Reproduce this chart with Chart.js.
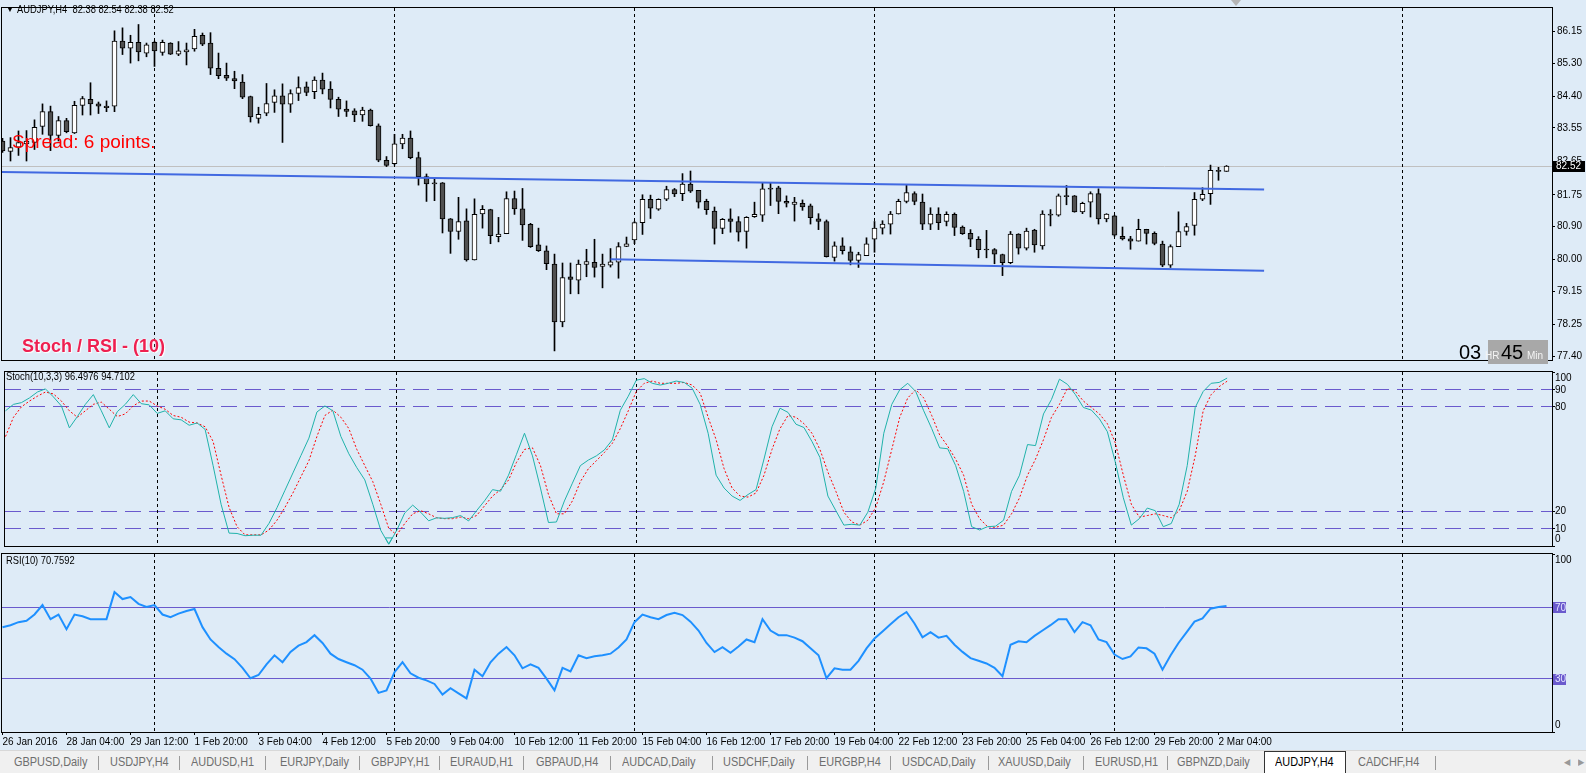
<!DOCTYPE html>
<html lang="en">
<head>
    <meta charset="UTF-8">
    <title>AUDJPY,H4</title>
    <script src="https://cdn.jsdelivr.net/npm/chart.js"></script>
    <style>
        body { margin: 0; width: 1586px; height: 773px; overflow: hidden; position: relative; background: #deebf7;
               font-family: 'Liberation Sans', Arial, sans-serif; }
        canvas { position: absolute; left: 0; }
        .txt { position: absolute; white-space: pre; font-size: 11px; color: #000; line-height: 13px;
               transform: scaleX(0.85); transform-origin: left top; }
        #spread { left: 12px; top: 131px; font-size: 19px; color: #ff0000; transform: none; line-height: 22px; }
        #stochTitle { left: 22px; top: 336px; font-weight: bold; font-size: 18px; color: #ee2050; transform: none;
                      line-height: 21px; text-shadow: 1px 1px 1px #fff, 0 0 2px #fff; }
        #timer { position: absolute; left: 1459px; top: 340px; height: 24px; }
        #timer .big { position: absolute; top: 1px; font-size: 20px; color: #000; }
        #timer .small { position: absolute; top: 10px; font-size: 10px; color: #f4f4f4; }
        #timerBox { position: absolute; left: 29px; top: 0; width: 60px; height: 24px; background: #a8a8a8; }
        #shiftMark { position: absolute; left: 1231px; top: 0; width: 0; height: 0;
                     border-left: 5px solid transparent; border-right: 5px solid transparent; border-top: 6px solid #b4b4b4; }
        #tabs { position: absolute; left: 0; top: 750px; width: 1586px; height: 23px; background: #f0f0f0; border-top: 1px solid #d8d8d8; }
        #tabs span { position: absolute; top: 4px; font-size: 12px; color: #6e6e6e; white-space: pre;
                     transform: scaleX(0.91); transform-origin: left top; }
        #tabs i { position: absolute; top: 5px; width: 1px; height: 14px; background: #9a9a9a; }
        #tabs .active { position: absolute; top: 0; height: 23px; background: #fff; border: 1px solid #333; border-bottom: none; box-sizing: border-box; }
    </style>
</head>
<body>
    <canvas id="mainChart" width="1586" height="368" style="top:0"></canvas>
    <canvas id="stochChart" width="1586" height="184" style="top:367px"></canvas>
    <canvas id="rsiChart" width="1586" height="201" style="top:551px"></canvas>

    <div class="txt" style="left:6px; top:3px; font-size:8px; transform:none;">&#9660;</div>
    <div class="txt" style="left:17px; top:3px;">AUDJPY,H4  82.38 82.54 82.38 82.52</div>
    <div id="spread" class="txt">Spread: 6 points.</div>
    <div id="stochTitle" class="txt">Stoch / RSI - (10)</div>
    <div id="shiftMark"></div>
    <div id="timer">
        <div id="timerBox"></div>
        <span class="big" style="left:0">03</span>
        <span class="small" style="left:26px">HR</span>
        <span class="big" style="left:42px">45</span>
        <span class="small" style="left:68px">Min</span>
    </div>
    <div class="txt" style="left:6px; top:370px;">Stoch(10,3,3) 96.4976 94.7102</div>
    <div class="txt" style="left:6px; top:554px;">RSI(10) 70.7592</div>

    <div id="tabs"></div>

    <script>
        // --- data ---
        const open = [83.20, 82.92, 83.03, 83.12, 83.16, 83.59, 83.99, 83.35, 83.75, 83.42,
            84.16, 84.32, 84.20, 84.14, 84.14, 85.89, 85.70, 85.86, 85.57, 85.86,
            85.59, 85.84, 85.54, 85.60, 85.68, 86.05, 85.84, 85.16, 84.97, 84.88,
            84.79, 84.40, 83.81, 83.95, 84.24, 84.42, 84.19, 84.48, 84.66, 84.53,
            84.84, 84.60, 84.32, 84.06, 84.01, 83.90, 84.03, 83.61, 82.68, 82.59,
            83.12, 83.28, 82.75, 82.24, 82.07, 82.07, 81.10, 80.76, 81.05, 79.99,
            81.23, 81.35, 80.62, 80.70, 81.65, 81.37, 80.95, 80.40, 80.24, 79.88,
            78.32, 79.54, 79.45, 79.87, 79.93, 79.82, 79.85, 79.93, 80.36, 80.53,
            81.00, 81.63, 81.36, 81.63, 81.89, 81.78, 82.04, 81.87, 81.57, 81.31,
            80.84, 81.10, 81.03, 80.76, 81.16, 81.20, 81.93, 81.94, 81.57, 81.49,
            81.52, 81.45, 81.10, 81.03, 80.06, 80.37, 80.21, 79.98, 80.11, 80.55,
            80.85, 80.96, 81.23, 81.57, 81.78, 81.55, 80.96, 81.23, 81.03, 81.22,
            80.88, 80.71, 80.55, 80.27, 80.27, 80.14, 79.92, 80.69, 80.31, 80.80,
            80.37, 81.23, 81.20, 81.73, 81.72, 81.29, 81.55, 81.78, 81.10, 81.18,
            80.63, 80.56, 80.50, 80.82, 80.71, 80.42, 79.85, 80.35, 80.76, 80.92,
            81.63, 81.78, 82.41, 82.38];
        const high = [83.27, 83.29, 83.47, 83.48, 83.77, 84.20, 84.14, 83.86, 83.81, 84.27,
            84.40, 84.77, 84.25, 84.28, 86.17, 86.25, 86.05, 86.34, 85.84, 85.89,
            85.92, 85.85, 85.88, 85.84, 86.21, 86.11, 86.12, 85.57, 85.30, 85.08,
            84.99, 84.41, 84.11, 84.75, 84.58, 84.74, 84.58, 84.93, 84.79, 84.93,
            85.03, 84.80, 84.38, 84.28, 84.07, 84.11, 84.06, 83.66, 82.78, 83.38,
            83.38, 83.47, 82.90, 82.31, 82.20, 82.08, 81.11, 81.68, 81.37, 81.64,
            81.46, 81.36, 81.14, 81.83, 81.85, 81.92, 80.98, 80.85, 80.37, 80.15,
            79.91, 79.91, 79.99, 80.28, 80.55, 80.15, 80.30, 80.46, 80.61, 81.03,
            81.75, 81.74, 81.64, 81.98, 81.92, 82.32, 82.39, 81.87, 81.63, 81.42,
            81.11, 81.37, 81.16, 81.16, 81.55, 82.07, 82.06, 81.98, 81.72, 81.68,
            81.61, 81.50, 81.24, 81.07, 80.48, 80.59, 80.35, 80.20, 80.59, 81.03,
            81.05, 81.30, 81.63, 82.01, 81.83, 81.77, 81.40, 81.40, 81.29, 81.26,
            80.91, 80.81, 80.62, 80.79, 80.30, 80.15, 80.76, 80.70, 80.85, 80.82,
            81.32, 81.35, 81.77, 82.00, 81.73, 81.55, 81.83, 81.91, 81.24, 81.20,
            80.88, 80.63, 81.09, 80.82, 80.75, 80.50, 80.40, 81.29, 80.98, 81.81,
            81.94, 82.55, 82.49, 82.54];
        const low = [82.89, 82.66, 82.81, 82.66, 82.97, 83.38, 82.94, 83.20, 83.42, 83.40,
            83.90, 83.90, 83.94, 83.99, 83.99, 85.53, 85.30, 85.36, 85.47, 85.21,
            85.51, 85.53, 85.50, 85.25, 85.62, 85.77, 84.99, 84.88, 84.83, 84.61,
            84.34, 83.71, 83.68, 83.88, 83.97, 83.16, 83.97, 84.29, 84.42, 84.34,
            84.47, 84.09, 83.86, 83.86, 83.72, 83.73, 83.60, 82.64, 82.51, 82.55,
            82.99, 82.72, 82.01, 81.57, 81.59, 80.72, 80.17, 80.55, 79.96, 79.99,
            80.85, 80.43, 80.48, 80.70, 81.22, 80.52, 80.33, 80.22, 79.73, 77.54,
            78.19, 79.08, 79.08, 79.54, 79.53, 79.24, 79.80, 79.50, 80.35, 80.43,
            80.68, 81.11, 81.33, 81.59, 81.70, 81.59, 81.81, 81.39, 81.22, 80.42,
            80.70, 80.74, 80.50, 80.31, 81.14, 81.03, 81.46, 81.24, 81.42, 81.04,
            81.33, 80.96, 80.81, 80.07, 79.96, 80.15, 79.86, 79.79, 80.11, 80.20,
            80.69, 80.69, 81.23, 81.53, 81.48, 80.81, 80.81, 80.81, 80.91, 80.65,
            80.68, 80.35, 80.05, 80.05, 79.89, 79.57, 79.89, 80.15, 80.26, 80.20,
            80.28, 80.91, 81.17, 81.48, 81.28, 81.24, 81.15, 80.96, 81.02, 80.63,
            80.53, 80.28, 80.50, 80.42, 80.40, 79.81, 79.79, 80.35, 80.66, 80.66,
            81.59, 81.49, 82.14, 82.38];
        const close = [82.93, 83.02, 83.16, 83.20, 83.57, 83.99, 83.35, 83.75, 83.45, 84.16,
            84.34, 84.20, 84.14, 84.10, 85.89, 85.70, 85.86, 85.60, 85.79, 85.63,
            85.86, 85.54, 85.63, 85.66, 86.02, 85.81, 85.16, 84.96, 84.89, 84.82,
            84.38, 83.85, 83.92, 84.21, 84.42, 84.19, 84.48, 84.64, 84.51, 84.84,
            84.60, 84.32, 84.06, 84.00, 83.90, 84.03, 83.61, 82.68, 82.54, 83.12,
            83.28, 82.75, 82.24, 82.04, 82.04, 81.10, 80.76, 81.03, 79.99, 81.22,
            81.36, 80.65, 80.69, 81.65, 81.37, 80.94, 80.35, 80.24, 79.89, 78.32,
            79.52, 79.47, 79.88, 79.95, 79.79, 79.88, 79.94, 80.35, 80.43, 81.00,
            81.63, 81.39, 81.63, 81.89, 81.77, 82.04, 81.85, 81.55, 81.35, 80.84,
            81.09, 81.03, 80.74, 81.14, 81.22, 81.91, 81.90, 81.57, 81.52, 81.55,
            81.42, 81.13, 81.03, 80.08, 80.37, 80.24, 79.98, 80.14, 80.43, 80.85,
            80.96, 81.23, 81.57, 81.81, 81.57, 80.96, 81.23, 81.00, 81.22, 80.87,
            80.70, 80.55, 80.27, 80.26, 80.15, 79.92, 80.69, 80.31, 80.77, 80.40,
            81.23, 81.20, 81.72, 81.70, 81.29, 81.52, 81.78, 81.10, 81.23, 80.66,
            80.56, 80.50, 80.82, 80.71, 80.44, 79.85, 80.35, 80.76, 80.89, 81.63,
            81.76, 82.41, 82.38, 82.52];

        const stochMain = [77.7, 81.4, 82.4, 85.1, 88.5, 90.3, 85.7, 80.5, 67.9, 74.4,
            81.4, 87.0, 77.7, 67.9, 77.2, 81.4, 87.0, 81.8, 81.1, 76.2,
            77.7, 73.1, 72.5, 69.4, 70.7, 67.0, 46.2, 24.0, 7.4, 7.2,
            5.9, 6.2, 6.2, 13.0, 22.0, 32.0, 42.0, 52.0, 62.0, 77.0,
            80.5, 77.7, 63.0, 53.0, 45.0, 38.0, 24.0, 9.0, 1.0, 9.0,
            19.0, 23.5, 19.4, 14.5, 16.2, 15.9, 16.3, 17.5, 14.4, 20.3,
            26.0, 32.4, 31.5, 40.7, 52.7, 64.8, 51.8, 33.3, 13.5, 13.8,
            25.9, 36.1, 46.2, 49.4, 51.8, 55.2, 61.0, 78.0, 86.1, 95.3,
            96.2, 93.5, 92.5, 93.5, 94.8, 94.0, 90.7, 81.4, 64.8, 40.7,
            33.3, 28.7, 26.2, 29.6, 32.4, 50.0, 68.5, 79.2, 76.8, 70.0,
            68.1, 60.1, 50.9, 28.7, 20.3, 12.0, 12.5, 12.0, 19.4, 33.3,
            64.8, 81.4, 89.8, 93.5, 88.8, 77.7, 67.5, 56.4, 55.9, 46.2,
            31.4, 11.1, 9.2, 11.1, 11.4, 14.8, 31.4, 40.7, 58.3, 57.7,
            75.9, 84.2, 95.9, 92.9, 87.0, 79.6, 78.1, 73.1, 65.7, 48.1,
            27.7, 12.0, 15.7, 21.8, 20.3, 11.1, 12.9, 24.0, 46.2, 79.6,
            88.8, 93.5, 94.0, 96.5];
        const stochSignal = [62.9, 74.0, 80.0, 83.3, 86.1, 88.5, 87.4, 83.3, 77.7, 74.0,
            77.7, 81.4, 82.7, 78.6, 74.4, 75.9, 80.5, 83.3, 83.3, 80.5,
            78.6, 75.0, 74.0, 71.2, 70.7, 68.5, 60.1, 40.7, 22.2, 11.1,
            6.4, 6.4, 6.4, 9.2, 14.8, 22.2, 30.5, 39.8, 49.0, 62.9,
            75.0, 78.1, 74.0, 67.5, 55.5, 46.2, 37.0, 24.0, 10.1, 6.4,
            12.9, 18.5, 20.3, 18.5, 16.2, 15.7, 15.7, 16.6, 15.7, 17.5,
            23.1, 28.7, 32.4, 37.9, 48.1, 55.5, 56.4, 46.2, 29.6, 18.5,
            18.5, 25.9, 37.0, 44.4, 49.0, 53.7, 59.0, 67.5, 77.7, 88.8,
            93.5, 94.8, 93.5, 93.5, 93.5, 94.0, 92.5, 87.9, 74.0, 61.1,
            44.4, 33.3, 28.7, 28.1, 30.5, 40.7, 55.5, 67.5, 75.0, 74.0,
            70.3, 64.8, 55.5, 42.5, 31.4, 19.4, 13.8, 12.0, 14.8, 22.2,
            37.0, 55.5, 74.0, 85.1, 89.8, 85.1, 75.0, 63.8, 57.4, 49.9,
            40.7, 24.0, 15.7, 11.1, 10.7, 12.0, 18.5, 27.7, 40.7, 49.9,
            61.1, 74.0, 81.4, 90.7, 88.8, 83.3, 79.6, 75.9, 70.3, 59.2,
            40.7, 24.0, 16.6, 17.5, 18.5, 17.5, 16.2, 20.3, 31.4, 51.8,
            77.7, 87.0, 91.6, 94.7];
        const stochArrows = [[48, 3.5]];   // [bar, value] of the signal mark
        const rsi = [58.9, 60.0, 61.7, 62.5, 66.0, 71.3, 63.4, 66.0, 57.8, 66.0,
            65.0, 63.4, 63.4, 63.4, 78.6, 74.7, 75.8, 72.0, 70.2, 71.3,
            66.0, 64.5, 66.5, 68.0, 69.1, 58.9, 52.0, 47.7, 44.0, 40.9,
            36.0, 30.2, 32.0, 38.0, 43.1, 39.2, 45.0, 48.5, 50.5, 54.4,
            50.0, 44.0, 41.0, 39.2, 37.5, 35.0, 30.0, 22.0, 23.4, 33.6,
            39.2, 33.0, 30.5, 29.0, 27.0, 21.0, 24.6, 21.7, 18.9, 35.0,
            31.3, 39.2, 44.0, 47.7, 43.1, 35.8, 38.0, 36.0, 30.0, 23.4,
            36.0, 34.0, 43.1, 41.5, 42.5, 43.1, 44.0, 47.5, 52.0, 61.7,
            66.0, 64.5, 63.4, 65.7, 67.0, 65.7, 62.0, 57.0, 50.0, 44.9,
            47.7, 44.5, 48.0, 52.0, 50.4, 63.4, 57.0, 54.4, 54.4, 53.0,
            51.0, 47.0, 43.1, 30.2, 35.8, 35.0, 35.0, 40.0, 47.0, 52.5,
            56.5, 60.5, 64.5, 67.4, 61.0, 53.2, 56.1, 53.0, 54.0, 49.0,
            45.0, 41.5, 40.0, 38.5, 36.0, 31.3, 49.0, 51.0, 50.4, 54.0,
            57.0, 60.0, 63.4, 63.4, 56.1, 61.7, 60.0, 52.0, 50.5, 43.5,
            41.0, 42.5, 47.5, 47.0, 44.0, 35.0, 43.0, 50.0, 56.0, 62.0,
            63.8, 69.3, 70.2, 70.76];

        // trend channel drawn on the price panel: [bar, price]
        const upperTrend = [[-1, 82.363], [157.7, 81.89]];
        const lowerTrend = [[76, 80.01], [157.7, 79.70]];

        const priceTicks = [86.15, 85.30, 84.40, 83.55, 82.65, 81.75, 80.90, 80.00, 79.15, 78.25, 77.40];
        const stochLevels = [90, 80, 20, 10];
        const stochAxis = [100, 90, 80, 20, 10, 0];
        const rsiLevels = [70, 30];
        const rsiAxis = [100, 70, 30, 0];

        const timeBars = [0, 8, 16, 24, 32, 40, 48, 56, 64, 72, 80, 88, 96, 104, 112, 120, 128, 136, 144, 152];
        const timeLabels = ['26 Jan 2016', '28 Jan 04:00', '29 Jan 12:00', '1 Feb 20:00', '3 Feb 04:00',
            '4 Feb 12:00', '5 Feb 20:00', '9 Feb 04:00', '10 Feb 12:00', '11 Feb 20:00', '15 Feb 04:00',
            '16 Feb 12:00', '17 Feb 20:00', '19 Feb 04:00', '22 Feb 12:00', '23 Feb 20:00', '25 Feb 04:00',
            '26 Feb 12:00', '29 Feb 20:00', '2 Mar 04:00'];
        const weekSeparators = [19, 49, 79, 109, 139, 175];

        const tabNames = ['GBPUSD,Daily', 'USDJPY,H4', 'AUDUSD,H1', 'EURJPY,Daily', 'GBPJPY,H1', 'EURAUD,H1',
            'GBPAUD,H4', 'AUDCAD,Daily', 'USDCHF,Daily', 'EURGBP,H4', 'USDCAD,Daily', 'XAUUSD,Daily',
            'EURUSD,H1', 'GBPNZD,Daily', 'AUDJPY,H4', 'CADCHF,H4'];
        const activeTab = 'AUDJPY,H4';

        // --- layout ---
        const FONT = "'Liberation Sans', Arial, sans-serif";
        Chart.defaults.font.family = FONT;
        Chart.defaults.font.size = 10;
        Chart.defaults.color = '#000';

        const X_MIN = -0.0625;            // bar 0 sits 2.5px into the plot
        const X_MAX = X_MIN + 1550 / 8;   // 8px per H4 bar
        const lastClose = close[close.length - 1];

        // panel frame, level lines, week separators, right-hand labels
        const mtPanel = {
            id: 'mtPanel',
            beforeDatasetsDraw(chart, args, o) {
                const { ctx, chartArea: a, scales: { x, y } } = chart;
                ctx.save();
                ctx.lineWidth = 1;
                if (o.lastPrice != null) {
                    const py = Math.floor(y.getPixelForValue(o.lastPrice)) + 0.5;
                    ctx.strokeStyle = '#c0c0c0';
                    ctx.beginPath(); ctx.moveTo(a.left, py); ctx.lineTo(a.right, py); ctx.stroke();
                }
                (o.levels || []).forEach(v => {
                    const py = Math.floor(y.getPixelForValue(v)) + 0.5;
                    ctx.strokeStyle = '#6a5acd';
                    ctx.setLineDash(o.levelDash || []);
                    ctx.beginPath(); ctx.moveTo(a.left, py); ctx.lineTo(a.right, py); ctx.stroke();
                });
                ctx.setLineDash([3, 3]);
                ctx.strokeStyle = '#000';
                weekSeparators.forEach(b => {
                    const px = Math.floor(x.getPixelForValue(b)) + 0.5;
                    if (px > a.right) return;
                    ctx.beginPath(); ctx.moveTo(px, a.top); ctx.lineTo(px, a.bottom); ctx.stroke();
                });
                ctx.restore();
            },
            afterDraw(chart, args, o) {
                const { ctx, chartArea: a, scales: { y } } = chart;
                ctx.save();
                ctx.strokeStyle = '#000';
                ctx.lineWidth = 1;
                ctx.strokeRect(a.left - 0.5, a.top - 0.5, a.right - a.left + 1, a.bottom - a.top + 1);
                ctx.font = '10px ' + FONT;
                ctx.textBaseline = 'middle';
                (o.axis || []).forEach(v => {
                    const py = y.getPixelForValue(v);
                    const ly = Math.min(Math.max(py, a.top + 6), a.bottom - 7);
                    ctx.beginPath(); ctx.moveTo(a.right, Math.floor(py) + 0.5); ctx.lineTo(a.right + 3, Math.floor(py) + 0.5); ctx.stroke();
                    if ((o.boxed || []).includes(v)) {
                        ctx.fillStyle = '#6a5acd';
                        ctx.fillRect(a.right + 1, Math.round(ly) - 5, 13, 11);
                        ctx.fillStyle = '#e4e4ff';
                    } else {
                        ctx.fillStyle = '#000';
                    }
                    ctx.fillText(String(v), a.right + 3, ly + 0.5);
                });
                if (o.lastPrice != null) {
                    const py = y.getPixelForValue(o.lastPrice);
                    ctx.fillStyle = '#000';
                    ctx.fillRect(a.right + 1, Math.round(py) - 5, 32, 11);
                    ctx.fillStyle = '#fff';
                    ctx.fillText(o.lastPrice.toFixed(2), a.right + 4, Math.round(py) + 0.5);
                }
                ctx.restore();
            }
        };

        function fixedWidth(scale) { scale.width = 34; }

        function xScale(show) {
            const opts = {
                type: 'linear', min: X_MIN, max: X_MAX, offset: false, display: show,
                afterBuildTicks: s => { s.ticks = timeBars.map(v => ({ value: v })); },
                ticks: { autoSkip: false, maxRotation: 0, minRotation: 0, align: 'start', padding: 1,
                         callback: (v, i) => timeLabels[i] },
                grid: { drawOnChartArea: false, drawTicks: true, tickLength: 3, color: '#000' },
                border: { display: false }
            };
            if (show) opts.afterFit = s => { s.height = 20; };
            return opts;
        }

        function indicatorY() {
            return {
                position: 'right', min: 0, max: 100, afterFit: fixedWidth,
                ticks: { display: false }, grid: { display: false }, border: { display: false }
            };
        }

        const common = { responsive: false, animation: false, devicePixelRatio: 1, events: [] };

        // price panel
        new Chart(document.getElementById('mainChart'), {
            type: 'bar',
            data: {
                datasets: [
                    { type: 'line', data: upperTrend.map(p => ({ x: p[0], y: p[1] })), borderColor: '#4169e1',
                      borderWidth: 2, pointRadius: 0, tension: 0, order: 0 },
                    { type: 'line', data: lowerTrend.map(p => ({ x: p[0], y: p[1] })), borderColor: '#4169e1',
                      borderWidth: 2, pointRadius: 0, tension: 0, order: 0 },
                    { label: 'body', data: open.map((o, i) => ({ x: i, y: [o, close[i]] })),
                      backgroundColor: open.map((o, i) => close[i] >= o ? '#ffffff' : '#505050'),
                      borderColor: '#000', borderWidth: 1, borderSkipped: false, barThickness: 5,
                      minBarLength: 1, grouped: false, order: 2 },
                    { label: 'wick', data: low.map((l, i) => ({ x: i, y: [l, high[i]] })),
                      backgroundColor: '#000', borderWidth: 0, barThickness: 1, grouped: false, order: 3 }
                ]
            },
            options: {
                ...common,
                layout: { padding: { left: 2, top: 3, right: 0, bottom: 2 } },
                scales: {
                    x: xScale(false),
                    y: {
                        position: 'right', min: 77.295, max: 86.785, afterFit: fixedWidth,
                        afterBuildTicks: s => { s.ticks = priceTicks.map(v => ({ value: v })); },
                        ticks: { autoSkip: false, padding: 2, callback: v => v.toFixed(2) },
                        grid: { drawOnChartArea: false, drawTicks: true, tickLength: 3, color: '#000' },
                        border: { display: false }
                    }
                },
                plugins: { legend: { display: false }, tooltip: { enabled: false },
                           mtPanel: { lastPrice: lastClose } }
            },
            plugins: [mtPanel]
        });

        // stochastic panel
        new Chart(document.getElementById('stochChart'), {
            type: 'line',
            data: {
                datasets: [
                    { data: stochMain.map((v, i) => ({ x: i, y: v })), borderColor: '#20b2aa', borderWidth: 1,
                      pointRadius: 0, tension: 0 },
                    { data: stochSignal.map((v, i) => ({ x: i, y: v })), borderColor: '#ff0000', borderWidth: 1,
                      borderDash: [2, 2], pointRadius: 0, tension: 0 },
                    { data: stochArrows.map(p => ({ x: p[0], y: p[1] })), showLine: false, pointStyle: 'triangle',
                      rotation: 180, pointRadius: 4, borderColor: '#20b2aa', borderWidth: 1,
                      backgroundColor: 'rgba(0,0,0,0)' }
                ]
            },
            options: {
                ...common,
                layout: { padding: { left: 2, top: 2, right: 0, bottom: 1 } },
                scales: { x: xScale(false), y: indicatorY() },
                plugins: { legend: { display: false }, tooltip: { enabled: false },
                           mtPanel: { levels: stochLevels, levelDash: [16, 8], axis: stochAxis } }
            },
            plugins: [mtPanel]
        });

        // RSI panel with the time axis
        new Chart(document.getElementById('rsiChart'), {
            type: 'line',
            data: {
                datasets: [
                    { data: rsi.map((v, i) => ({ x: i, y: v })), borderColor: '#1e90ff', borderWidth: 2,
                      pointRadius: 0, tension: 0 }
                ]
            },
            options: {
                ...common,
                layout: { padding: { left: 2, top: 3, right: 0, bottom: 0 } },
                scales: { x: xScale(true), y: indicatorY() },
                plugins: { legend: { display: false }, tooltip: { enabled: false },
                           mtPanel: { levels: rsiLevels, axis: rsiAxis, boxed: rsiLevels } }
            },
            plugins: [mtPanel]
        });

        // terminal tabs
        const tabLeft = [14, 110, 191, 280, 371, 450, 536, 622, 723, 819, 902, 998, 1095, 1177, 1275, 1358];
        const sepLeft = [98, 179, 265, 359, 439, 523, 610, 712, 807, 890, 988, 1083, 1167, 1435];
        const tabs = document.getElementById('tabs');
        tabs.innerHTML += '<div class="active" style="left:1264px; width:82px"></div>';
        tabNames.forEach((name, i) => {
            const color = name === activeTab ? '#000' : '#6e6e6e';
            tabs.innerHTML += `<span style="left:${tabLeft[i]}px; color:${color}">${name}</span>`;
        });
        sepLeft.forEach(x => { tabs.innerHTML += `<i style="left:${x}px"></i>`; });
        tabs.innerHTML += '<span style="left:1564px; font-size:9px; top:6px; color:#999">&#9664;</span>';
        tabs.innerHTML += '<span style="left:1578px; font-size:9px; top:6px; color:#999">&#9654;</span>';
    </script>
</body>
</html>
